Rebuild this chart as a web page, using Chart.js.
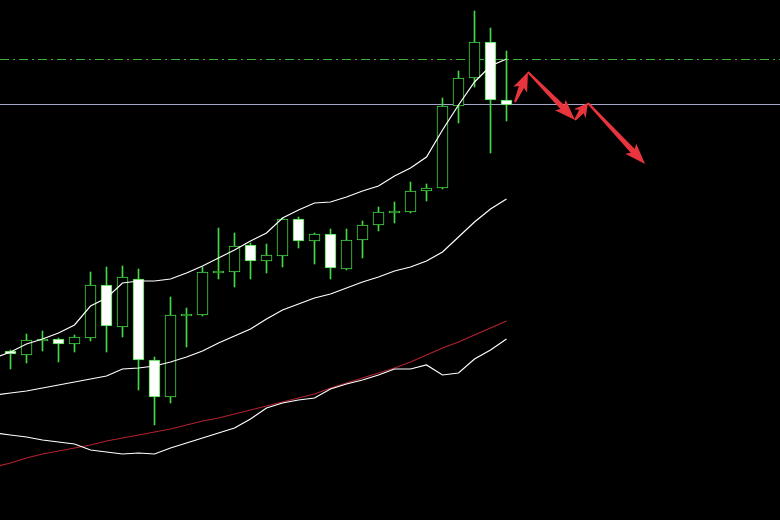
<!DOCTYPE html>
<html>
<head>
<meta charset="utf-8">
<script src="https://cdn.jsdelivr.net/npm/chart.js@4.4.1/dist/chart.umd.min.js"></script>
<style>
  html, body { margin: 0; padding: 0; background: #000; }
  canvas { display: block; background: #000; }
</style>
</head>
<body>
<canvas id="grafico" width="780" height="520"></canvas>
<script>
// candles, oldest first (price units)
const opens  = [169, 165, 179, 181, 176, 182, 235, 193, 241, 160, 123, 204, 205, 247, 248, 275, 259, 264, 301, 279, 286, 251, 280, 295, 307, 308, 329, 332, 414, 442, 478, 420]
const highs  = [170, 186, 189, 182, 185, 248, 253, 254, 251, 163, 223, 212, 253, 292, 287, 277, 276, 302, 303, 287, 291, 291, 299, 313, 318, 338, 336, 422, 449, 509, 492, 469]
const lows   = [151, 157, 169, 158, 168, 179, 168, 183, 130,  95, 117, 173, 204, 241, 233, 241, 247, 253, 272, 256, 241, 250, 262, 289, 297, 307, 319, 331, 397, 433, 367, 399]
const closes = [166, 180, 181, 176, 183, 235, 194, 243, 160, 123, 205, 206, 248, 249, 274, 259, 265, 301, 279, 286, 252, 280, 295, 308, 309, 329, 332, 414, 442, 478, 420, 415]

// indicator lines, start one bar before the first visible candle
const bandaSuperior = [162, 168, 176, 181, 187, 195, 214, 222, 237, 239, 239, 241, 247, 254, 262, 270, 279, 287, 302, 310, 317, 318, 323, 329, 334, 344, 352, 363, 390, 415, 438, 454, 461]
const bandaMedia    = [125, 127, 129, 132, 135, 138, 141, 144, 151, 152, 154, 158, 163, 169, 177, 184, 191, 201, 210, 216, 222, 226, 232, 238, 243, 249, 253, 259, 268, 283, 298, 311, 321]
const bandaInferior = [ 87,  85,  83,  80,  78,  76,  70,  68,  66,  67,  66,  72,  77,  82,  87,  92, 101, 112, 117, 120, 122, 131, 136, 140, 145, 151, 151, 155, 145, 147, 161, 170, 181]
const mediaLonga    = [ 53,  57,  62,  66,  69,  72,  75,  79,  82,  85,  88,  91,  95,  99, 102, 106, 110, 114, 118, 122, 126, 132, 137, 142, 147, 152, 158, 165, 172, 178, 185, 192, 199]

// horizontal levels
const nivelTracejado = 460.5
const nivelSolido = 415.5

// hand drawn arrows: [xInicio, yInicio, xFim, yFim] in bar index / price
const setas = [
    [31.53, 418, 32.34, 448],
    [32.34, 448, 35.28, 400],
    [35.28, 400, 36.09, 417],
    [36.09, 417, 39.66, 356]
]

const xMin = -0.65625
const xMax = xMin + 48.75

const verde = '#44d844'
const idx = opens.map((_, i) => i)
const linhaIdx = bandaMedia.map((_, i) => i - 1)

const corpos = idx.map(i => ({ x: i, y: [Math.min(opens[i], closes[i]), Math.max(opens[i], closes[i])] }))
const pavios = idx.map(i => ({ x: i, y: [lows[i], highs[i]] }))
const corCorpo = idx.map(i => closes[i] < opens[i] ? '#ffffff' : '#000000')

function serie(valores) {
    return valores.map((v, i) => ({ x: linhaIdx[i], y: v }))
}

const setasPlugin = {
    id: 'setas',
    afterDatasetsDraw(chart) {
        const ctx = chart.ctx
        const sx = chart.scales.x
        const sy = chart.scales.y
        ctx.save()
        ctx.fillStyle = '#e8343c'
        setas.forEach(s => {
            const x0 = sx.getPixelForValue(s[0]), y0 = sy.getPixelForValue(s[1])
            const x1 = sx.getPixelForValue(s[2]), y1 = sy.getPixelForValue(s[3])
            const len = Math.hypot(x1 - x0, y1 - y0)
            const dx = (x1 - x0) / len, dy = (y1 - y0) / len
            const nx = -dy, ny = dx
            const L = Math.min(18, len * 0.5)
            const bx = x1 - dx * L, by = y1 - dy * L
            const w0 = 1, w1 = 2.8, hw = 7.5
            ctx.beginPath()
            ctx.moveTo(x0 + nx * w0, y0 + ny * w0)
            ctx.lineTo(bx + nx * w1, by + ny * w1)
            ctx.lineTo(bx - dx * 3 + nx * hw, by - dy * 3 + ny * hw)
            ctx.lineTo(x1, y1)
            ctx.lineTo(bx - dx * 3 - nx * hw, by - dy * 3 - ny * hw)
            ctx.lineTo(bx - nx * w1, by - ny * w1)
            ctx.lineTo(x0 - nx * w0, y0 - ny * w0)
            ctx.closePath()
            ctx.fill()
        })
        ctx.restore()
    }
}

const linha = (dados, cor, extra) => Object.assign({
    type: 'line',
    data: dados,
    borderColor: cor,
    borderWidth: 1.2,
    pointRadius: 0,
    tension: 0,
    fill: false
}, extra || {})

new Chart(document.getElementById('grafico'), {
    data: {
        datasets: [
            linha([{ x: xMin, y: nivelTracejado }, { x: xMax, y: nivelTracejado }], '#3cb43c', { borderWidth: 1, borderDash: [9, 4, 2, 4], order: 5 }),
            linha([{ x: xMin, y: nivelSolido }, { x: xMax, y: nivelSolido }], '#a4a6c8', { borderWidth: 1, order: 5 }),
            linha(serie(mediaLonga), '#b0222c', { order: 4 }),
            linha(serie(bandaSuperior), '#ffffff', { order: 1 }),
            linha(serie(bandaMedia), '#ffffff', { order: 1 }),
            linha(serie(bandaInferior), '#ffffff', { order: 1 }),
            {
                type: 'bar',
                data: pavios,
                backgroundColor: verde,
                barThickness: 1,
                grouped: false,
                order: 3
            },
            {
                type: 'bar',
                data: corpos,
                backgroundColor: corCorpo,
                borderColor: verde,
                borderWidth: 1,
                borderSkipped: false,
                barThickness: 11,
                grouped: false,
                order: 2
            }
        ]
    },
    options: {
        responsive: false,
        animation: false,
        devicePixelRatio: 1,
        layout: { padding: 0 },
        plugins: { legend: { display: false }, tooltip: { enabled: false } },
        scales: {
            x: { type: 'linear', min: xMin, max: xMax, offset: false, display: false },
            y: { min: 0, max: 520, display: false }
        }
    },
    plugins: [setasPlugin]
})
</script>
</body>
</html>
